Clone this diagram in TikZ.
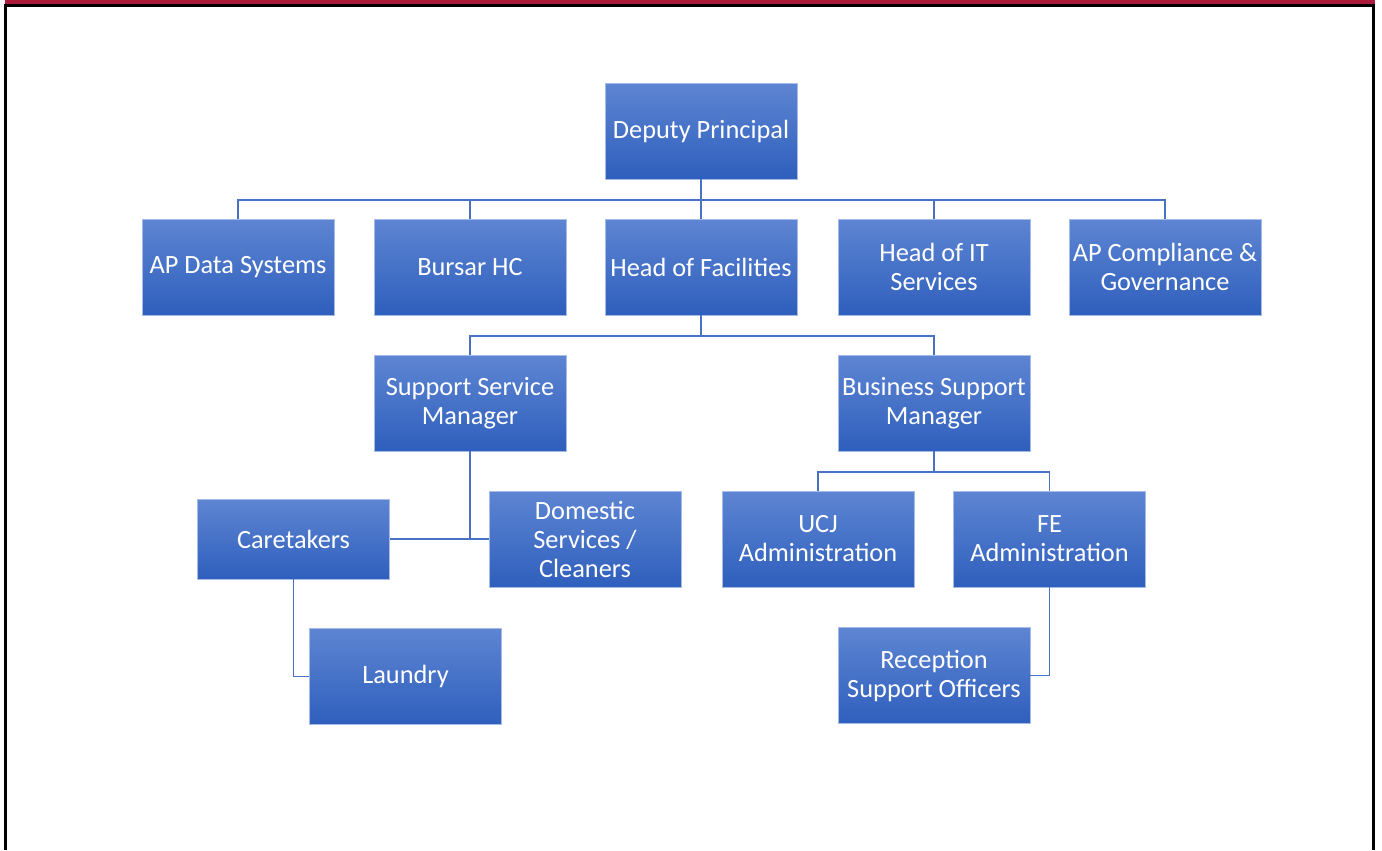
\documentclass[tikz,border=0pt]{standalone}
\usepackage{fontspec}
\setmainfont{Carlito}
\definecolor{boxtop}{RGB}{93,133,210}
\definecolor{boxbot}{RGB}{47,95,189}
\definecolor{linkblue}{RGB}{74,114,196}
\definecolor{topbar}{RGB}{172,26,60}

\tikzset{
  orgbox/.style={rectangle, top color=boxtop, bottom color=boxbot, draw=boxtop!55!white, line width=0.4pt,
    text=white, minimum width=3.84cm, minimum height=1.92cm, inner sep=2pt, align=center,
    font=\fontsize{15}{16.5}\selectfont},
  link/.style={linkblue, line width=0.9pt}
}

\begin{document}
\begin{tikzpicture}[x=0.02cm, y=-0.02cm]

\useasboundingbox (0,0) rectangle (1382,850);

\fill[topbar] (5,0) rectangle (1374.5,4);
\draw[black, line width=0.06cm] (5.5,850) -- (5.5,5) -- (1373.7,5) -- (1373.7,850);

\node[orgbox] (dp) at (701,131) {Deputy Principal};

\node[orgbox] (ds) at (238,267) {AP Data Systems};
\node[orgbox] (bh) at (470,267) {Bursar HC};
\node[orgbox] (hf) at (701,267) {Head of Facilities};
\node[orgbox] (it) at (934,267) {Head of IT\\Services};
\node[orgbox] (ac) at (1165,267) {AP Compliance \&\\Governance};

\node[orgbox] (ssm) at (470,403) {Support Service\\Manager};
\node[orgbox] (bsm) at (934,403) {Business Support\\Manager};

\node[orgbox, minimum height=1.6cm] (ct) at (293.5,539) {Caretakers};
\node[orgbox] (dom) at (585,539) {Domestic\\Services /\\Cleaners};
\node[orgbox] (ucj) at (818,539) {UCJ\\Administration};
\node[orgbox] (fe) at (1049.5,539) {FE\\Administration};

\node[orgbox] (la) at (405.5,676.5) {Laundry};
\node[orgbox] (rso) at (934,675.5) {Reception\\Support Officers};

\coordinate (b1) at (701,200);
\coordinate (b2) at (701,336);
\coordinate (b3) at (934,472);

\draw[link] (dp.south) -- (hf.north);
\draw[link] (ds.north) |- (b1) -| (ac.north);
\draw[link] (bh.north) |- (b1);
\draw[link] (it.north) |- (b1);

\draw[link] (hf.south) -- (b2);
\draw[link] (ssm.north) |- (b2) -| (bsm.north);

\draw[link] (ssm.south) -- (ssm.south |- ct.east);
\draw[link] (ct.east) -- (dom.west);
\draw[link] (ct.south) |- (la.west);

\draw[link] (bsm.south) -- (b3);
\draw[link] (ucj.north) |- (b3) -| (fe.north);
\draw[link] (fe.south) |- (rso.east);

\end{tikzpicture}
\end{document}
